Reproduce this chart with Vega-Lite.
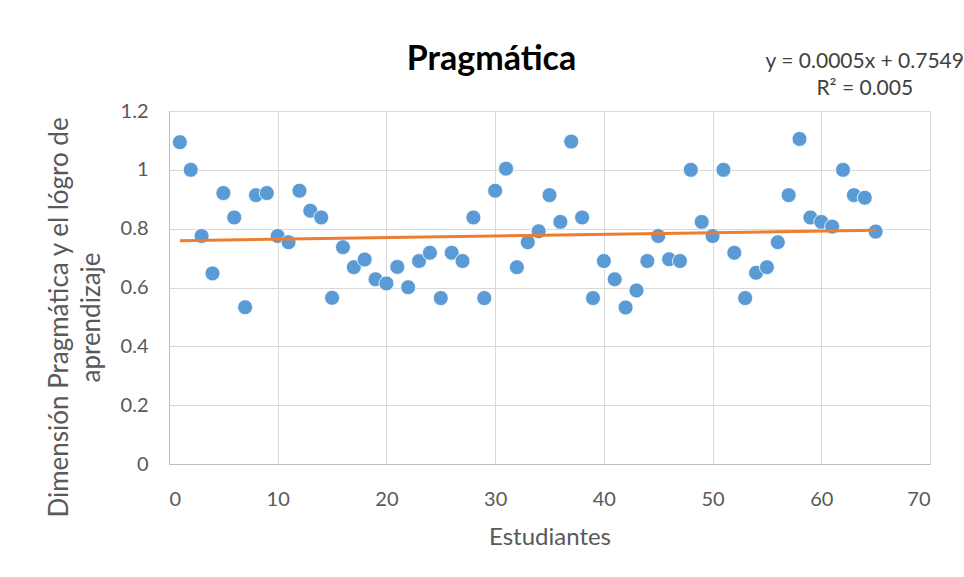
{
  "$schema": "https://vega.github.io/schema/vega-lite/v6.json",
  "autosize": "none",
  "width": 761,
  "height": 353,
  "padding": {"left": 169, "top": 111, "right": 34, "bottom": 113},
  "background": "white",
  "config": {
    "font": "Lato",
    "view": {"stroke": "#D9D9D9", "strokeWidth": 1},
    "axis": {
      "labelFont": "Lato",
      "titleFont": "Lato",
      "labelColor": "#595959",
      "titleColor": "#595959",
      "gridColor": "#D9D9D9",
      "domainColor": "#BFBFBF",
      "ticks": false,
      "labelFontSize": 20,
      "titleFontSize": 24,
      "titleFontWeight": "normal"
    }
  },
  "title": {
    "text": "Pragmática",
    "font": "Lato",
    "fontSize": 34,
    "fontWeight": "bold",
    "color": "#000000",
    "anchor": "middle",
    "frame": "group",
    "baseline": "alphabetic",
    "dx": -58,
    "offset": 0,
    "dy": 53
  },
  "data": {
    "values": [
      {"x": 1, "y": 1.094}, {"x": 2, "y": 1.0}, {"x": 3, "y": 0.775}, {"x": 4, "y": 0.648},
      {"x": 5, "y": 0.921}, {"x": 6, "y": 0.838}, {"x": 7, "y": 0.533}, {"x": 8, "y": 0.914},
      {"x": 9, "y": 0.921}, {"x": 10, "y": 0.775}, {"x": 11, "y": 0.754}, {"x": 12, "y": 0.929},
      {"x": 13, "y": 0.861}, {"x": 14, "y": 0.838}, {"x": 15, "y": 0.565}, {"x": 16, "y": 0.737},
      {"x": 17, "y": 0.669}, {"x": 18, "y": 0.695}, {"x": 19, "y": 0.628}, {"x": 20, "y": 0.614},
      {"x": 21, "y": 0.67}, {"x": 22, "y": 0.601}, {"x": 23, "y": 0.69}, {"x": 24, "y": 0.718},
      {"x": 25, "y": 0.564}, {"x": 26, "y": 0.718}, {"x": 27, "y": 0.69}, {"x": 28, "y": 0.838},
      {"x": 29, "y": 0.564}, {"x": 30, "y": 0.929}, {"x": 31, "y": 1.004}, {"x": 32, "y": 0.669},
      {"x": 33, "y": 0.754}, {"x": 34, "y": 0.791}, {"x": 35, "y": 0.914}, {"x": 36, "y": 0.823},
      {"x": 37, "y": 1.096}, {"x": 38, "y": 0.838}, {"x": 39, "y": 0.564}, {"x": 40, "y": 0.69},
      {"x": 41, "y": 0.628}, {"x": 42, "y": 0.532}, {"x": 43, "y": 0.59}, {"x": 44, "y": 0.69},
      {"x": 45, "y": 0.775}, {"x": 46, "y": 0.696}, {"x": 47, "y": 0.69}, {"x": 48, "y": 1.0},
      {"x": 49, "y": 0.823}, {"x": 50, "y": 0.775}, {"x": 51, "y": 1.0}, {"x": 52, "y": 0.718},
      {"x": 53, "y": 0.564}, {"x": 54, "y": 0.65}, {"x": 55, "y": 0.669}, {"x": 56, "y": 0.754},
      {"x": 57, "y": 0.914}, {"x": 58, "y": 1.105}, {"x": 59, "y": 0.838}, {"x": 60, "y": 0.823},
      {"x": 61, "y": 0.807}, {"x": 62, "y": 1.0}, {"x": 63, "y": 0.914}, {"x": 64, "y": 0.905},
      {"x": 65, "y": 0.79}
    ]
  },
  "layer": [
    {
      "mark": {"type": "point", "filled": true, "size": 225, "color": "#5B9BD5", "opacity": 1, "stroke": "white", "strokeWidth": 0.8},
      "encoding": {
        "x": {
          "field": "x", "type": "quantitative",
          "scale": {"domain": [0, 70], "nice": false},
          "axis": {"values": [0, 10, 20, 30, 40, 50, 60, 70], "title": "Estudiantes", "labelPadding": 25, "titlePadding": 16, "grid": true}
        },
        "y": {
          "field": "y", "type": "quantitative",
          "scale": {"domain": [0, 1.2], "nice": false},
          "axis": {
            "values": [0, 0.2, 0.4, 0.6, 0.8, 1, 1.2],
            "format": "~g",
            "title": ["Dimensión Pragmática y el lógro de", "aprendizaje"],
            "titleFontSize": 26,
            "titleLineHeight": 32,
            "titleY": 206,
            "labelPadding": 21,
            "titlePadding": 16,
            "grid": true
          }
        }
      }
    },
    {
      "transform": [{"regression": "y", "on": "x", "extent": [1, 65]}],
      "mark": {"type": "line", "color": "#ED7D31", "strokeWidth": 3},
      "encoding": {
        "x": {"field": "x", "type": "quantitative"},
        "y": {"field": "y", "type": "quantitative"}
      }
    },
    {
      "data": {"values": [
        {"label": "y = 0.0005x + 0.7549", "lx": 64, "ly": 1.365},
        {"label": "R² = 0.005", "lx": 64, "ly": 1.274}
      ]},
      "mark": {"type": "text", "font": "Lato", "fontSize": 21, "color": "#404040", "align": "center", "baseline": "middle"},
      "encoding": {
        "x": {"field": "lx", "type": "quantitative"},
        "y": {"field": "ly", "type": "quantitative"},
        "text": {"field": "label"}
      }
    }
  ]
}
